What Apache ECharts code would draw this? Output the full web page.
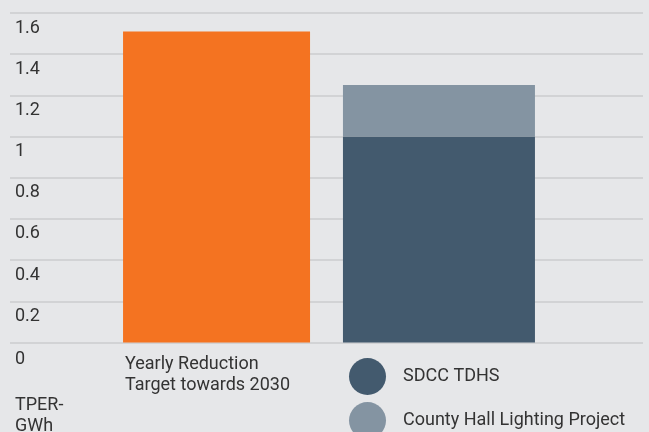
<!DOCTYPE html>
<html>
<head>
<meta charset="utf-8">
<script src="https://cdn.jsdelivr.net/npm/echarts@6/dist/echarts.min.js"></script>
<style>
html,body{margin:0;padding:0;background:#e6e7e9;}
#chart{width:649px;height:432px;}
</style>
</head>
<body>
<div id="chart"></div>
<script>
var categories = ['2030'];
var targetName = 'Yearly Reduction Target towards 2030';
var targetValues = [1.51];
var tdhsName = 'SDCC TDHS';
var tdhsValues = [1.0];
var lightingName = 'County Hall Lighting Project';
var lightingValues = [0.25];
var yTicks = [0, 0.2, 0.4, 0.6, 0.8, 1, 1.2, 1.4, 1.6];
var yUnit = 'TPER-\nGWh';

var font = 'Roboto';
var textColor = '#333';
var yMin = yTicks[0], yMax = yTicks[yTicks.length - 1];
var chart = echarts.init(document.getElementById('chart'));
chart.setOption({
  backgroundColor: '#e6e7e9',
  animation: false,
  grid: [
    {left: 10, right: 6, top: 13, bottom: 89.5, containLabel: false},
    {left: 12.5, right: 3.5, top: 13, bottom: 89.5, containLabel: false}
  ],
  xAxis: [
    {type: 'category', data: categories, gridIndex: 0,
     axisLine: {show: false}, axisTick: {show: false}, axisLabel: {show: false}},
    {type: 'category', data: categories, gridIndex: 1,
     axisLine: {show: false}, axisTick: {show: false}, axisLabel: {show: false}}
  ],
  yAxis: [
    {
      type: 'value', gridIndex: 0, min: yMin, max: yMax, interval: 0.2,
      axisLine: {show: false}, axisTick: {show: false},
      splitLine: {lineStyle: {color: '#d2d3d5', width: 2}},
      axisLabel: {
        inside: true, margin: 5, align: 'left', verticalAlign: 'top',
        lineHeight: 18, padding: [6, 0, 0, 0],
        fontFamily: font, fontSize: 18, color: textColor,
        formatter: function (v) { return v === 0 ? '{z|0}' : String(v); },
        rich: {z: {fontFamily: font, fontSize: 18, lineHeight: 18, color: textColor, padding: [4, 0, 0, 0]}}
      }
    },
    {
      type: 'value', gridIndex: 1, min: yMin, max: yMax, interval: 0.2,
      axisLine: {show: false}, axisTick: {show: false},
      splitLine: {show: false}, axisLabel: {show: false}
    }
  ],
  legend: [
    {
      data: [{name: targetName, icon: 'none'}],
      left: 120, top: 354, padding: 0, itemWidth: 0, itemHeight: 0, selectedMode: false,
      formatter: function () { return 'Yearly Reduction\nTarget towards 2030'; },
      textStyle: {fontFamily: font, fontSize: 18, color: textColor, lineHeight: 21}
    },
    {
      data: [tdhsName, lightingName],
      orient: 'vertical', left: 349, top: 358, height: 120, padding: 0, icon: 'circle',
      itemWidth: 37, itemHeight: 37, itemGap: 7, selectedMode: false,
      textStyle: {fontFamily: font, fontSize: 18, color: textColor, padding: [0, 0, 0, 12]}
    }
  ],
  graphic: [{
    type: 'text', left: 15, top: 395,
    style: {text: yUnit, fontFamily: font, fontSize: 18, fill: textColor, lineHeight: 21}
  }],
  series: [
    {name: targetName, type: 'bar', xAxisIndex: 1, yAxisIndex: 1, data: targetValues,
     barWidth: 187, barGap: '17.6%', itemStyle: {color: '#f47321'}},
    {name: tdhsName, type: 'bar', xAxisIndex: 1, yAxisIndex: 1, stack: 'b', data: tdhsValues,
     barWidth: 192, itemStyle: {color: '#435a6e'}},
    {name: lightingName, type: 'bar', xAxisIndex: 1, yAxisIndex: 1, stack: 'b', data: lightingValues,
     barWidth: 192, itemStyle: {color: '#8494a2'}}
  ]
});
</script>
</body>
</html>
